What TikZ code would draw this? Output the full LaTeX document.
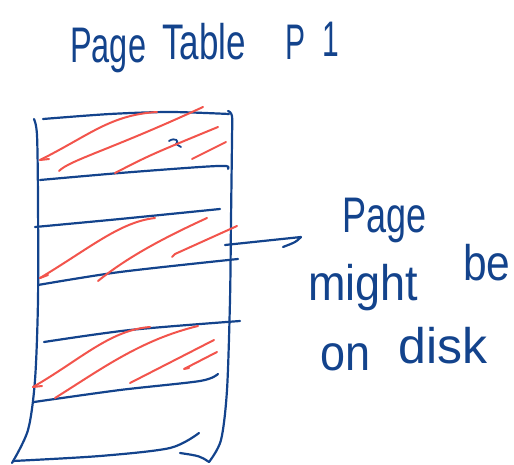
\documentclass[tikz,border=0pt]{standalone}
\usepackage{fontspec}
\usepackage{graphicx}
\setmainfont{Liberation Sans}
% narrow a word horizontally, like handwriting
\newcommand{\handnarrow}[2]{\scalebox{#1}[1]{#2}}
\begin{document}
\begin{tikzpicture}[x=1pt,y=-1pt,
  ink/.style={draw=inkblue,line width=2.2pt,line cap=round,line join=round},
  hatch/.style={draw=hatchred,line width=2pt,line cap=round,line join=round},
  word/.style={text=inkblue,font=\fontsize{50}{52}\selectfont,inner sep=0pt,anchor=base west}]
\definecolor{inkblue}{HTML}{13438C}
\definecolor{hatchred}{HTML}{F2544C}
\useasboundingbox (0,0) rectangle (514,465);

% title
\node[word] (tPage) at (70,63) {\handnarrow{0.65}{Page}};
\node[word] (tTable) at (162,60) {\handnarrow{0.7}{Table}};
\node[word] (tP) at (285,60) {\handnarrow{0.6}{P}};
\node[word] (tOne) at (322,57) {\handnarrow{0.6}{1}};

% outer frame of the table
\draw[ink] plot[smooth] coordinates {(34,119) (37,135) (38,200) (38,300) (35,380) (28,430) (12,463)};
\draw[ink] plot[smooth] coordinates {(228,111) (232,116) (232,140) (231,220) (230,300) (227,390) (221,440) (209,462)};
\draw[ink] (209,462) .. controls (200,456) .. (180,453);

% row separators
\draw[ink] plot[smooth] coordinates {(43,119) (110,114) (170,112) (229,114)};
\draw[ink] plot[smooth] coordinates {(40,180) (120,173) (200,167) (226,166) (228,169)};
\draw[ink] plot[smooth] coordinates {(35,227) (120,219) (220,209)};
\draw[ink] plot[smooth] coordinates {(38,285) (120,272) (238,259)};
\draw[ink] plot[smooth] coordinates {(44,342) (130,330) (240,321)};
\draw[ink] plot[smooth] coordinates {(34,402) (120,390) (200,381) (218,374)};
\draw[ink] plot[smooth] coordinates {(13,461) (100,456) (170,448) (199,433)};

% small mark in the first row
\draw[ink,line width=1.8pt] (169,141) .. controls (175,137) and (180,141) .. (176,144) .. controls (178,145) .. (181,147);

% hatching of the first used row
\draw[hatch] (40,160) .. controls (90,135) and (110,115) .. (157,112);
\draw[hatch] (40,160) -- (49,159);
\draw[hatch] (59,171) .. controls (70,160) and (110,150) .. (203,107);
\draw[hatch] (115,173) .. controls (150,155) .. (218,127);
\draw[hatch] (226,142) -- (196,157) -- (192,159);

% hatching of the second used row
\draw[hatch] (40,278) .. controls (90,248) and (120,222) .. (155,218);
\draw[hatch] (40,278) -- (48,275);
\draw[hatch] (98,281) .. controls (130,255) and (170,235) .. (207,218);
\draw[hatch] (237,226) -- (175,254) -- (172,257);

% hatching of the third used row
\draw[hatch] (33,387) .. controls (80,360) and (110,330) .. (150,327);
\draw[hatch] (33,387) -- (42,386);
\draw[hatch] (55,398) .. controls (100,370) and (140,340) .. (198,326);
\draw[hatch] (130,383) -- (214,340);
\draw[hatch] (217,352) -- (184,369) -- (189,368);

% note on the right
\node[word] (nPage) at (342,233) {\handnarrow{0.72}{Page}};
\node[word] (nMight) at (308,300) {\handnarrow{0.9}{might}};
\node[word] (nBe) at (463,280) {\handnarrow{0.85}{be}};
\node[word] (nOn) at (320,370) {\handnarrow{0.9}{on}};
\node[word] (nDisk) at (398,363) {disk};

\coordinate (from) at (225,245);
\coordinate (tip) at (301,237);
\draw[ink] (from) -- (tip) .. controls (296,242) .. (283,247);
\end{tikzpicture}
\end{document}
